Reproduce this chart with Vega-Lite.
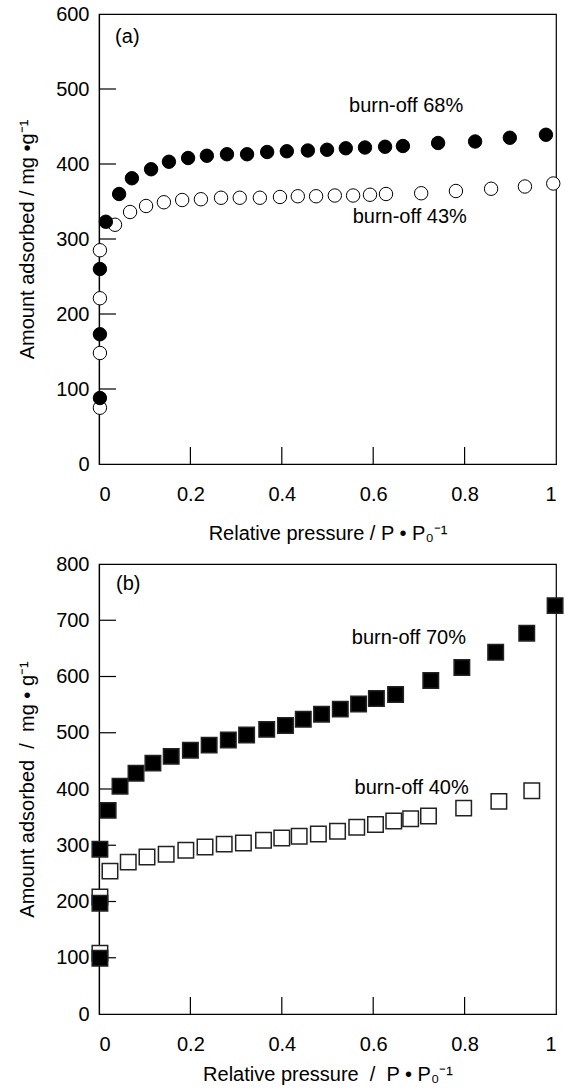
{
  "$schema": "https://vega.github.io/schema/vega-lite/v6.json",
  "padding": {"left": 17, "top": 3, "right": 0, "bottom": 0},
  "spacing": 9,
  "config": {
    "view": {"stroke": "black", "strokeWidth": 1.2},
    "font": "Liberation Sans",
    "axis": {
      "grid": false,
      "ticks": false,
      "domainColor": "black",
      "domainWidth": 1.2,
      "labelFont": "Liberation Sans",
      "labelFontSize": 20,
      "labelColor": "black",
      "titleFont": "Liberation Sans",
      "titleFontSize": 20,
      "titleFontWeight": "normal",
      "titleColor": "black"
    },
    "axisX": {"labelPadding": 20},
    "axisY": {"labelPadding": 10, "titlePadding": 18}
  },
  "datasets": {
    "a": [
      {"p": 0.002, "v": 285, "s": "burn-off 43%"},
      {"p": 0.002, "v": 221, "s": "burn-off 43%"},
      {"p": 0.002, "v": 148, "s": "burn-off 43%"},
      {"p": 0.002, "v": 75, "s": "burn-off 43%"},
      {"p": 0.035, "v": 319, "s": "burn-off 43%"},
      {"p": 0.068, "v": 336, "s": "burn-off 43%"},
      {"p": 0.103, "v": 344, "s": "burn-off 43%"},
      {"p": 0.142, "v": 349, "s": "burn-off 43%"},
      {"p": 0.182, "v": 352, "s": "burn-off 43%"},
      {"p": 0.223, "v": 353, "s": "burn-off 43%"},
      {"p": 0.267, "v": 355, "s": "burn-off 43%"},
      {"p": 0.308, "v": 355, "s": "burn-off 43%"},
      {"p": 0.352, "v": 355, "s": "burn-off 43%"},
      {"p": 0.396, "v": 356, "s": "burn-off 43%"},
      {"p": 0.435, "v": 357, "s": "burn-off 43%"},
      {"p": 0.475, "v": 357, "s": "burn-off 43%"},
      {"p": 0.516, "v": 358, "s": "burn-off 43%"},
      {"p": 0.556, "v": 358, "s": "burn-off 43%"},
      {"p": 0.593, "v": 359, "s": "burn-off 43%"},
      {"p": 0.628, "v": 360, "s": "burn-off 43%"},
      {"p": 0.705, "v": 361, "s": "burn-off 43%"},
      {"p": 0.781, "v": 364, "s": "burn-off 43%"},
      {"p": 0.858, "v": 367, "s": "burn-off 43%"},
      {"p": 0.932, "v": 370, "s": "burn-off 43%"},
      {"p": 0.994, "v": 374, "s": "burn-off 43%"},
      {"p": 0.002, "v": 260, "s": "burn-off 68%"},
      {"p": 0.002, "v": 173, "s": "burn-off 68%"},
      {"p": 0.002, "v": 88, "s": "burn-off 68%"},
      {"p": 0.015, "v": 323, "s": "burn-off 68%"},
      {"p": 0.044, "v": 360, "s": "burn-off 68%"},
      {"p": 0.072, "v": 381, "s": "burn-off 68%"},
      {"p": 0.114, "v": 393, "s": "burn-off 68%"},
      {"p": 0.153, "v": 403, "s": "burn-off 68%"},
      {"p": 0.195, "v": 408, "s": "burn-off 68%"},
      {"p": 0.236, "v": 411, "s": "burn-off 68%"},
      {"p": 0.28, "v": 413, "s": "burn-off 68%"},
      {"p": 0.324, "v": 413, "s": "burn-off 68%"},
      {"p": 0.368, "v": 416, "s": "burn-off 68%"},
      {"p": 0.411, "v": 417, "s": "burn-off 68%"},
      {"p": 0.457, "v": 418, "s": "burn-off 68%"},
      {"p": 0.499, "v": 419, "s": "burn-off 68%"},
      {"p": 0.54, "v": 421, "s": "burn-off 68%"},
      {"p": 0.582, "v": 422, "s": "burn-off 68%"},
      {"p": 0.626, "v": 423, "s": "burn-off 68%"},
      {"p": 0.665, "v": 424, "s": "burn-off 68%"},
      {"p": 0.742, "v": 428, "s": "burn-off 68%"},
      {"p": 0.823, "v": 430, "s": "burn-off 68%"},
      {"p": 0.899, "v": 435, "s": "burn-off 68%"},
      {"p": 0.978, "v": 439, "s": "burn-off 68%"}
    ],
    "aText": [
      {"p": 0.062, "v": 569, "t": "(a)"},
      {"p": 0.672, "v": 477, "t": "burn-off 68%"},
      {"p": 0.68, "v": 329, "t": "burn-off 43%"}
    ],
    "b": [
      {"p": 0.002, "v": 208, "s": "burn-off 40%"},
      {"p": 0.002, "v": 108, "s": "burn-off 40%"},
      {"p": 0.024, "v": 254, "s": "burn-off 40%"},
      {"p": 0.064, "v": 270, "s": "burn-off 40%"},
      {"p": 0.105, "v": 279, "s": "burn-off 40%"},
      {"p": 0.147, "v": 284, "s": "burn-off 40%"},
      {"p": 0.19, "v": 291, "s": "burn-off 40%"},
      {"p": 0.232, "v": 297, "s": "burn-off 40%"},
      {"p": 0.274, "v": 302, "s": "burn-off 40%"},
      {"p": 0.316, "v": 304, "s": "burn-off 40%"},
      {"p": 0.36, "v": 309, "s": "burn-off 40%"},
      {"p": 0.4, "v": 313, "s": "burn-off 40%"},
      {"p": 0.438, "v": 316, "s": "burn-off 40%"},
      {"p": 0.48, "v": 320, "s": "burn-off 40%"},
      {"p": 0.522, "v": 325, "s": "burn-off 40%"},
      {"p": 0.564, "v": 332, "s": "burn-off 40%"},
      {"p": 0.605, "v": 337, "s": "burn-off 40%"},
      {"p": 0.645, "v": 343, "s": "burn-off 40%"},
      {"p": 0.682, "v": 347, "s": "burn-off 40%"},
      {"p": 0.721, "v": 352, "s": "burn-off 40%"},
      {"p": 0.798, "v": 366, "s": "burn-off 40%"},
      {"p": 0.875, "v": 378, "s": "burn-off 40%"},
      {"p": 0.947, "v": 397, "s": "burn-off 40%"},
      {"p": 0.002, "v": 293, "s": "burn-off 70%"},
      {"p": 0.002, "v": 197, "s": "burn-off 70%"},
      {"p": 0.002, "v": 99, "s": "burn-off 70%"},
      {"p": 0.02, "v": 362, "s": "burn-off 70%"},
      {"p": 0.046, "v": 405, "s": "burn-off 70%"},
      {"p": 0.081, "v": 428, "s": "burn-off 70%"},
      {"p": 0.118, "v": 446, "s": "burn-off 70%"},
      {"p": 0.158, "v": 458, "s": "burn-off 70%"},
      {"p": 0.2, "v": 469, "s": "burn-off 70%"},
      {"p": 0.241, "v": 478, "s": "burn-off 70%"},
      {"p": 0.283, "v": 487, "s": "burn-off 70%"},
      {"p": 0.323, "v": 496, "s": "burn-off 70%"},
      {"p": 0.367, "v": 506, "s": "burn-off 70%"},
      {"p": 0.408, "v": 513, "s": "burn-off 70%"},
      {"p": 0.447, "v": 524, "s": "burn-off 70%"},
      {"p": 0.487, "v": 533, "s": "burn-off 70%"},
      {"p": 0.528, "v": 542, "s": "burn-off 70%"},
      {"p": 0.568, "v": 551, "s": "burn-off 70%"},
      {"p": 0.607, "v": 561, "s": "burn-off 70%"},
      {"p": 0.649, "v": 568, "s": "burn-off 70%"},
      {"p": 0.726, "v": 593, "s": "burn-off 70%"},
      {"p": 0.794, "v": 616, "s": "burn-off 70%"},
      {"p": 0.868, "v": 643, "s": "burn-off 70%"},
      {"p": 0.936, "v": 677, "s": "burn-off 70%"},
      {"p": 0.998, "v": 726, "s": "burn-off 70%"}
    ],
    "bText": [
      {"p": 0.064, "v": 764, "t": "(b)"},
      {"p": 0.678, "v": 668, "t": "burn-off 70%"},
      {"p": 0.684, "v": 401, "t": "burn-off 40%"}
    ],
    "xTicks": [{"t": 0.2}, {"t": 0.4}, {"t": 0.6}, {"t": 0.8}],
    "aYTicks": [{"t": 100}, {"t": 200}, {"t": 300}, {"t": 400}, {"t": 500}],
    "bYTicks": [{"t": 100}, {"t": 200}, {"t": 300}, {"t": 400}, {"t": 500}, {"t": 600}, {"t": 700}]
  },
  "vconcat": [
    {
      "width": 457,
      "height": 450,
      "layer": [
        {
          "data": {"name": "xTicks"},
          "mark": {"type": "rule", "color": "black", "strokeWidth": 1.2},
          "encoding": {
            "x": {"field": "t", "type": "quantitative"},
            "y": {"datum": 0},
            "y2": {"datum": 22.7}
          }
        },
        {
          "data": {"name": "aYTicks"},
          "mark": {"type": "rule", "color": "black", "strokeWidth": 1.2},
          "encoding": {
            "y": {"field": "t", "type": "quantitative"},
            "x": {"datum": 0},
            "x2": {"datum": 0.0372}
          }
        },
        {
          "data": {"name": "a"},
          "mark": {"type": "point", "shape": "circle", "size": 180, "stroke": "black", "strokeWidth": 1, "opacity": 1, "filled": false},
          "encoding": {
            "x": {"field": "p", "type": "quantitative", "scale": {"domain": [0, 1], "nice": false, "zero": false}, "axis": {"values": [0, 0.2, 0.4, 0.6, 0.8, 1], "format": "~g", "title": "Relative pressure / P • P₀⁻¹", "titlePadding": 19}},
            "y": {"field": "v", "type": "quantitative", "scale": {"domain": [0, 600], "nice": false}, "axis": {"values": [0, 100, 200, 300, 400, 500, 600], "title": "Amount adsorbed / mg •g⁻¹"}},
            "fill": {"field": "s", "type": "nominal", "scale": {"domain": ["burn-off 43%", "burn-off 68%"], "range": ["white", "black"]}, "legend": null}
          }
        },
        {
          "data": {"name": "aText"},
          "mark": {"type": "text", "font": "Liberation Sans", "fontSize": 20, "color": "black", "align": "center", "baseline": "middle"},
          "encoding": {
            "x": {"field": "p", "type": "quantitative"},
            "y": {"field": "v", "type": "quantitative"},
            "text": {"field": "t"}
          }
        }
      ]
    },
    {
      "width": 457,
      "height": 450,
      "layer": [
        {
          "data": {"name": "xTicks"},
          "mark": {"type": "rule", "color": "black", "strokeWidth": 1.2},
          "encoding": {
            "x": {"field": "t", "type": "quantitative"},
            "y": {"datum": 0},
            "y2": {"datum": 30.2}
          }
        },
        {
          "data": {"name": "bYTicks"},
          "mark": {"type": "rule", "color": "black", "strokeWidth": 1.2},
          "encoding": {
            "y": {"field": "t", "type": "quantitative"},
            "x": {"datum": 0},
            "x2": {"datum": 0.0372}
          }
        },
        {
          "data": {"name": "b"},
          "mark": {"type": "point", "shape": "square", "size": 240, "stroke": "#222", "strokeWidth": 1.5, "opacity": 1, "filled": false},
          "encoding": {
            "x": {"field": "p", "type": "quantitative", "scale": {"domain": [0, 1], "nice": false, "zero": false}, "axis": {"values": [0, 0.2, 0.4, 0.6, 0.8, 1], "format": "~g", "title": "Relative pressure\u00a0 /\u00a0 P • P₀⁻¹", "titlePadding": 10}},
            "y": {"field": "v", "type": "quantitative", "scale": {"domain": [0, 800], "nice": false}, "axis": {"values": [0, 100, 200, 300, 400, 500, 600, 700, 800], "title": "Amount adsorbed\u00a0 /\u00a0 mg • g⁻¹"}},
            "fill": {"field": "s", "type": "nominal", "scale": {"domain": ["burn-off 40%", "burn-off 70%"], "range": ["white", "black"]}, "legend": null}
          }
        },
        {
          "data": {"name": "bText"},
          "mark": {"type": "text", "font": "Liberation Sans", "fontSize": 20, "color": "black", "align": "center", "baseline": "middle"},
          "encoding": {
            "x": {"field": "p", "type": "quantitative"},
            "y": {"field": "v", "type": "quantitative"},
            "text": {"field": "t"}
          }
        }
      ]
    }
  ]
}
